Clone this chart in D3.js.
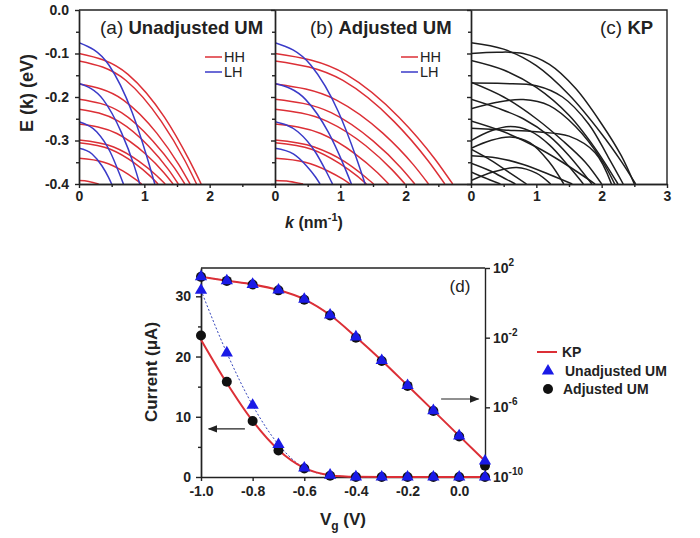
<!DOCTYPE html>
<html>
<head>
<meta charset="utf-8">
<script src="https://cdn.jsdelivr.net/npm/d3@7"></script>
<style>
  body { margin: 0; background: #fff; }
  text { font-family: "Liberation Sans", Arial, sans-serif; fill: #222; }
  .axis path, .axis line { stroke: #222; stroke-width: 1.4; }
  .axis text { font-weight: bold; font-size: 14px; fill: #222; }
</style>
</head>
<body>
<script>
'use strict';

// ---- band structure data, [k (1/nm), E (eV)] ----
var hhA = [
  [[0,-0.100],[0.75,-0.148],[1.31,-0.247],[1.68,-0.343],[1.87,-0.400]],
  [[0,-0.117],[0.72,-0.162],[1.26,-0.256],[1.62,-0.346],[1.80,-0.400]],
  [[0,-0.170],[0.68,-0.207],[1.19,-0.283],[1.53,-0.356],[1.70,-0.400]],
  [[0,-0.205],[0.65,-0.236],[1.13,-0.301],[1.46,-0.363],[1.62,-0.400]],
  [[0,-0.228],[0.61,-0.256],[1.06,-0.312],[1.37,-0.367],[1.52,-0.400]],
  [[0,-0.262],[0.58,-0.284],[1.01,-0.330],[1.30,-0.374],[1.44,-0.400]],
  [[0,-0.299],[0.53,-0.315],[0.92,-0.348],[1.19,-0.381],[1.32,-0.400]],
  [[0,-0.305],[0.48,-0.320],[0.85,-0.352],[1.09,-0.382],[1.21,-0.400]],
  [[0,-0.341],[0.38,-0.350],[0.67,-0.370],[0.86,-0.389],[0.96,-0.400]],
  [[0,-0.392],[0.15,-0.394],[0.30,-0.400]]
];
var lhA = [
  [[0,-0.075],[0.46,-0.127],[0.81,-0.234],[1.04,-0.338],[1.16,-0.400]],
  [[0,-0.169],[0.37,-0.206],[0.65,-0.282],[0.84,-0.356],[0.93,-0.400]],
  [[0,-0.257],[0.27,-0.280],[0.48,-0.327],[0.61,-0.373],[0.68,-0.400]],
  [[0,-0.318],[0.20,-0.331],[0.35,-0.358],[0.45,-0.384],[0.50,-0.400]]
];
var hhB = [
  [[0,-0.100],[1.09,-0.148],[1.90,-0.247],[2.45,-0.343],[2.72,-0.400]],
  [[0,-0.117],[1.04,-0.162],[1.82,-0.256],[2.34,-0.346],[2.60,-0.400]],
  [[0,-0.170],[0.94,-0.207],[1.65,-0.283],[2.12,-0.356],[2.35,-0.400]],
  [[0,-0.205],[0.86,-0.236],[1.50,-0.301],[1.93,-0.363],[2.14,-0.400]],
  [[0,-0.228],[0.80,-0.256],[1.39,-0.312],[1.79,-0.367],[1.99,-0.400]],
  [[0,-0.262],[0.70,-0.284],[1.22,-0.330],[1.57,-0.374],[1.74,-0.400]],
  [[0,-0.299],[0.60,-0.315],[1.06,-0.348],[1.36,-0.381],[1.51,-0.400]],
  [[0,-0.305],[0.56,-0.320],[0.98,-0.352],[1.26,-0.382],[1.40,-0.400]],
  [[0,-0.341],[0.46,-0.350],[0.81,-0.370],[1.04,-0.389],[1.15,-0.400]],
  [[0,-0.392],[0.22,-0.394],[0.43,-0.400]]
];
var lhB = [
  [[0,-0.075],[0.55,-0.127],[0.97,-0.234],[1.24,-0.338],[1.38,-0.400]],
  [[0,-0.169],[0.47,-0.206],[0.82,-0.282],[1.05,-0.356],[1.17,-0.400]],
  [[0,-0.257],[0.35,-0.280],[0.62,-0.327],[0.79,-0.373],[0.88,-0.400]],
  [[0,-0.318],[0.28,-0.331],[0.48,-0.358],[0.62,-0.384],[0.69,-0.400]]
];
var kpC = [
  [[0,-0.075],[0.5,-0.090],[1.0,-0.128],[1.5,-0.195],[2.0,-0.285],[2.3,-0.348],[2.52,-0.400]],
  [[0,-0.100],[0.4,-0.097],[0.8,-0.100],[1.2,-0.125],[1.6,-0.180],[2.0,-0.262],[2.3,-0.335],[2.50,-0.400]],
  [[0,-0.116],[0.5,-0.138],[1.0,-0.178],[1.5,-0.242],[1.9,-0.318],[2.25,-0.400]],
  [[0,-0.168],[0.5,-0.169],[1.0,-0.174],[1.4,-0.200],[1.8,-0.262],[2.1,-0.338],[2.33,-0.400]],
  [[0,-0.166],[0.5,-0.200],[1.0,-0.250],[1.4,-0.300],[1.75,-0.350],[2.0,-0.400]],
  [[0,-0.227],[0.4,-0.212],[0.8,-0.206],[1.2,-0.220],[1.6,-0.268],[2.0,-0.345],[2.2,-0.400]],
  [[0,-0.205],[0.4,-0.225],[0.8,-0.250],[1.2,-0.290],[1.5,-0.335],[1.85,-0.400]],
  [[0,-0.272],[0.5,-0.276],[1.0,-0.280],[1.5,-0.290],[1.9,-0.328],[2.15,-0.400]],
  [[0,-0.300],[0.3,-0.278],[0.6,-0.268],[0.9,-0.278],[1.2,-0.310],[1.5,-0.360],[1.72,-0.400]],
  [[0,-0.255],[0.5,-0.280],[1.0,-0.315],[1.4,-0.350],[1.9,-0.400]],
  [[0,-0.318],[0.3,-0.300],[0.6,-0.292],[0.9,-0.305],[1.2,-0.350],[1.42,-0.400]],
  [[0,-0.335],[0.4,-0.340],[0.8,-0.355],[1.2,-0.378],[1.55,-0.400]],
  [[0,-0.320],[0.3,-0.345],[0.6,-0.375],[0.85,-0.400]],
  [[0,-0.352],[0.3,-0.370],[0.55,-0.390],[0.68,-0.400]],
  [[0,-0.392],[0.35,-0.372],[0.7,-0.362],[1.0,-0.375],[1.22,-0.400]],
  [[0,-0.372],[0.2,-0.385],[0.45,-0.400]]
];
var eTicks = [0, -0.1, -0.2, -0.3, -0.4];
var eMinor = [-0.05, -0.15, -0.25, -0.35];

// ---- I-V data ----
var vg = [-1.0, -0.9, -0.8, -0.7, -0.6, -0.5, -0.4, -0.3, -0.2, -0.1, 0.0, 0.1];
var kpLin = [22.8, 15.6, 9.3, 4.5, 1.5, 0.3, 0.03, 0, 0, 0, 0, 0];
var unadjLin = [31.0, 20.6, 11.9, 5.4, 1.5, 0.3, 0.02, 0, 0, 0, 0, 0];
var adjLin = [23.5, 15.8, 9.3, 4.4, 1.4, 0.2, 0, 0, 0, 0, 0, 0];
var kpLog = [31.6, 18.6, 11.5, 5.4, 1.6, 0.20, 1.1e-2, 4.9e-4, 1.8e-5, 6.5e-7, 2.3e-8, 8.3e-10];
var unadjLog = [31.6, 18.6, 11.5, 5.4, 1.6, 0.20, 1.1e-2, 4.9e-4, 1.8e-5, 6.5e-7, 2.3e-8, 8.3e-10];
var adjLog = [31.0, 18.2, 11.2, 5.2, 1.5, 0.19, 1.0e-2, 4.6e-4, 1.7e-5, 6.1e-7, 2.1e-8, 4.5e-10];
var vgTicks = [-1.0, -0.8, -0.6, -0.4, -0.2, 0.0];
var linTicks = [0, 10, 20, 30];
var linMinor = [5, 15, 25];
var logTicks = [1e2, 1e-2, 1e-6, 1e-10];
var logExp = ["2", "-2", "-6", "-10"];

var red = "#dc2f36";
var blue = "#3a3ac8";

var svg = d3.select("body").append("svg")
    .attr("width", 700)
    .attr("height", 538);

// ================= top panels =================
var topY = 10, bottomY = 184, panelW = 196;
var yE = d3.scaleLinear().domain([-0.4, 0]).range([bottomY, topY]);

var panels = [
  { x0: 79,  tag: "(a)", name: "Unadjusted UM", tx: 21,  sets: [[hhA, red], [lhA, blue]], kLabels: [0, 1, 2], legend: true, curve: d3.curveMonotoneX },
  { x0: 275, tag: "(b)", name: "Adjusted UM",   tx: 35,  sets: [[hhB, red], [lhB, blue]], kLabels: [0, 1, 2], legend: true, curve: d3.curveMonotoneX },
  { x0: 471, tag: "(c)", name: "KP",            tx: 129, sets: [[kpC, "#1e1e1e"]],        kLabels: [0, 1, 2, 3], legend: false, curve: d3.curveCatmullRom.alpha(0.5) }
];

panels.forEach(function(p, i) {
  var xK = d3.scaleLinear().domain([0, 3]).range([p.x0, p.x0 + panelW]);
  var line = d3.line()
      .x(function(d) { return xK(d[0]); })
      .y(function(d) { return yE(d[1]); })
      .curve(p.curve);

  svg.append("clipPath").attr("id", "clip" + i)
    .append("rect")
      .attr("x", p.x0).attr("y", topY)
      .attr("width", panelW).attr("height", bottomY - topY);

  var g = svg.append("g").attr("clip-path", "url(#clip" + i + ")");
  p.sets.forEach(function(s) {
    g.selectAll(null)
      .data(s[0])
      .enter().append("path")
        .attr("fill", "none")
        .attr("stroke", s[1])
        .attr("stroke-width", 1.5)
        .attr("d", line);
  });

  // axes
  svg.append("g")
      .attr("class", "axis")
      .attr("transform", "translate(0," + bottomY + ")")
    .call(d3.axisBottom(xK).tickValues(p.kLabels).tickSize(4).tickSizeOuter(0).tickPadding(3)
      .tickFormat(function(d) { return d; }));
  svg.append("g")
      .attr("class", "axis")
      .attr("transform", "translate(0," + bottomY + ")")
    .call(d3.axisBottom(xK).tickValues([0.5, 1.5, 2.5]).tickSize(3).tickSizeOuter(0).tickFormat(""));

  svg.append("g")
      .attr("class", "axis")
      .attr("transform", "translate(" + p.x0 + ",0)")
    .call(d3.axisLeft(yE).tickValues(eTicks).tickSize(4).tickSizeOuter(0).tickPadding(6)
      .tickFormat(function(d) { return i === 0 ? d.toFixed(1) : ""; }));
  svg.append("g")
      .attr("class", "axis")
      .attr("transform", "translate(" + p.x0 + ",0)")
    .call(d3.axisLeft(yE).tickValues(eMinor).tickSize(3).tickSizeOuter(0).tickFormat(""));

  // title
  var t = svg.append("text")
      .attr("x", p.x0 + p.tx)
      .attr("y", 34);
  t.append("tspan").attr("font-size", 19).text(p.tag + " ");
  t.append("tspan").attr("font-size", 18.5).attr("font-weight", "bold").text(p.name);

  if (p.legend) {
    [["HH", red, 57], ["LH", blue, 72]].forEach(function(l) {
      svg.append("line")
          .attr("x1", p.x0 + 126).attr("x2", p.x0 + 143)
          .attr("y1", l[2]).attr("y2", l[2])
          .attr("stroke", l[1]).attr("stroke-width", 1.5);
      svg.append("text")
          .attr("x", p.x0 + 145).attr("y", l[2] + 5)
          .attr("font-size", 14.5).attr("fill", "#333")
          .text(l[0]);
    });
  }
});

// frame top and right
svg.append("path")
    .attr("d", "M79," + topY + "H667V" + bottomY)
    .attr("fill", "none").attr("stroke", "#222").attr("stroke-width", 1.4);

// axis titles
svg.append("text")
    .attr("transform", "translate(33,93) rotate(-90)")
    .attr("text-anchor", "middle")
    .attr("font-size", 18).attr("font-weight", "bold")
    .text("E (k) (eV)");

var kl = svg.append("text")
    .attr("x", 314).attr("y", 228)
    .attr("text-anchor", "middle")
    .attr("font-size", 16).attr("font-weight", "bold");
kl.append("tspan").attr("font-style", "italic").text("k");
kl.append("tspan").text(" (nm");
kl.append("tspan").attr("font-size", 11).attr("dy", -7).text("-1");
kl.append("tspan").attr("dy", 7).text(")");

// ================= panel (d) =================
var dL = 201, dR = 485, dT = 268, dB = 477;
var xV = d3.scaleLinear().domain([-1.0, 0.1]).range([dL, dR]);
var yLin = d3.scaleLinear().domain([0, 34.7]).range([dB, dT]);
var yLog = d3.scaleLog().domain([1e-10, 1e2]).range([dB, dT]);

svg.append("g")
    .attr("class", "axis")
    .attr("transform", "translate(0," + dB + ")")
  .call(d3.axisBottom(xV).tickValues(vgTicks).tickSize(4).tickSizeOuter(0).tickPadding(5)
    .tickFormat(function(d) { return d.toFixed(1); }));

svg.append("g")
    .attr("class", "axis")
    .attr("transform", "translate(" + dL + ",0)")
  .call(d3.axisLeft(yLin).tickValues(linTicks).tickSize(5).tickSizeOuter(0).tickPadding(5));
svg.append("g")
    .attr("class", "axis")
    .attr("transform", "translate(" + dL + ",0)")
  .call(d3.axisLeft(yLin).tickValues(linMinor).tickSize(3).tickSizeOuter(0).tickFormat(""));

svg.append("g")
    .attr("class", "axis")
    .attr("transform", "translate(" + dR + ",0)")
  .call(d3.axisRight(yLog).tickValues(logTicks).tickSize(5).tickSizeOuter(0).tickFormat(""));

logTicks.forEach(function(v, i) {
  var lt = svg.append("text")
      .attr("x", dR + 8).attr("y", yLog(v) + 5)
      .attr("font-size", 14).attr("font-weight", "bold");
  lt.append("tspan").text("10");
  lt.append("tspan").attr("font-size", 10).attr("dy", -7).text(logExp[i]);
});

svg.append("line")
    .attr("x1", dL).attr("x2", dR).attr("y1", dT).attr("y2", dT)
    .attr("stroke", "#222").attr("stroke-width", 1.4);

var linData = vg.map(function(v, i) { return { v: v, kp: kpLin[i], un: unadjLin[i], ad: adjLin[i] }; });
var logData = vg.map(function(v, i) { return { v: v, kp: kpLog[i], un: unadjLog[i], ad: adjLog[i] }; });

function seriesLine(yScale, key) {
  return d3.line()
      .x(function(d) { return xV(d.v); })
      .y(function(d) { return yScale(d[key]); })
      .curve(d3.curveMonotoneX);
}

[[linData, yLin], [logData, yLog]].forEach(function(s) {
  var data = s[0], ys = s[1];
  svg.append("path")
      .datum(data)
      .attr("fill", "none")
      .attr("stroke", "#3344bb")
      .attr("stroke-width", 1)
      .attr("stroke-dasharray", "2,2")
      .attr("d", seriesLine(ys, "un"));
  svg.append("path")
      .datum(data)
      .attr("fill", "none")
      .attr("stroke", red)
      .attr("stroke-width", 2)
      .attr("d", seriesLine(ys, "kp"));
  svg.selectAll(null)
      .data(data)
      .enter().append("circle")
        .attr("cx", function(d) { return xV(d.v); })
        .attr("cy", function(d) { return ys(d.ad); })
        .attr("r", 5)
        .attr("fill", "#111");
  svg.selectAll(null)
      .data(data)
      .enter().append("path")
        .attr("transform", function(d) { return "translate(" + xV(d.v) + "," + ys(d.un) + ")"; })
        .attr("d", d3.symbol(d3.symbolTriangle).size(65))
        .attr("fill", "#1a1ae6");
});

// arrows
svg.append("defs").append("marker")
    .attr("id", "arrow")
    .attr("viewBox", "0 0 10 10")
    .attr("refX", 9).attr("refY", 5)
    .attr("markerWidth", 8).attr("markerHeight", 8)
    .attr("orient", "auto")
  .append("path")
    .attr("d", "M0,1L10,5L0,9z")
    .attr("fill", "#222");

svg.append("line")
    .attr("x1", xV(-0.83)).attr("x2", xV(-0.97))
    .attr("y1", yLin(8)).attr("y2", yLin(8))
    .attr("stroke", "#222").attr("stroke-width", 1.2)
    .attr("marker-end", "url(#arrow)");
svg.append("line")
    .attr("x1", xV(-0.07)).attr("x2", xV(0.075))
    .attr("y1", yLog(3e-6)).attr("y2", yLog(3e-6))
    .attr("stroke", "#222").attr("stroke-width", 1.2)
    .attr("marker-end", "url(#arrow)");

svg.append("text")
    .attr("x", 460).attr("y", 292)
    .attr("text-anchor", "middle")
    .attr("font-size", 17)
    .text("(d)");

// legend
var lx = 537;
svg.append("line")
    .attr("x1", lx).attr("x2", lx + 20).attr("y1", 352).attr("y2", 352)
    .attr("stroke", red).attr("stroke-width", 2);
svg.append("path")
    .attr("transform", "translate(" + (lx + 11) + ",371)")
    .attr("d", d3.symbol(d3.symbolTriangle).size(65))
    .attr("fill", "#1a1ae6");
svg.append("circle")
    .attr("cx", lx + 11).attr("cy", 389).attr("r", 5)
    .attr("fill", "#111");
[["KP", 357, lx + 25], ["Unadjusted UM", 376, lx + 28], ["Adjusted UM", 394, lx + 26]].forEach(function(l) {
  svg.append("text")
      .attr("x", l[2]).attr("y", l[1])
      .attr("font-size", 14).attr("font-weight", "bold")
      .text(l[0]);
});

// axis titles
svg.append("text")
    .attr("transform", "translate(157,372) rotate(-90)")
    .attr("text-anchor", "middle")
    .attr("font-size", 17).attr("font-weight", "bold")
    .text("Current (\u03bcA)");

var vl = svg.append("text")
    .attr("x", 343).attr("y", 525)
    .attr("text-anchor", "middle")
    .attr("font-size", 17).attr("font-weight", "bold");
vl.append("tspan").text("V");
vl.append("tspan").attr("font-size", 12).attr("dy", 5).text("g");
vl.append("tspan").attr("dy", -5).text(" (V)");
</script>
</body>
</html>
